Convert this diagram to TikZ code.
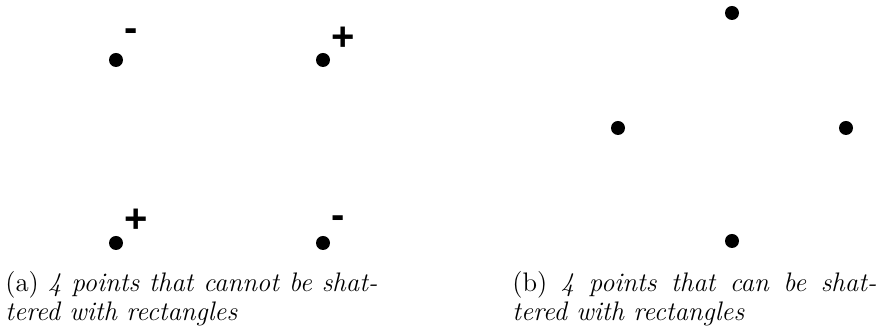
\documentclass[tikz,border=0pt]{standalone}
\usepackage{fontspec}
\newfontfamily\signfont{Liberation Sans}
\begin{document}
\begin{tikzpicture}[x=0.5pt,y=-0.5pt,
  dot/.style={circle,fill=black,inner sep=0pt,minimum size=7pt},
  sign/.style={inner sep=0pt,font=\fontsize{20}{24}\selectfont\signfont\bfseries},
  captext/.style={inner sep=0pt,anchor=base west,font=\fontsize{13.4}{16}\selectfont}]
\useasboundingbox (0,0) rectangle (880,330);
% (a)
\node[dot] (a1) at (116,60) {};
\node[dot] (a2) at (323,60) {};
\node[dot] (a3) at (116,243) {};
\node[dot] (a4) at (323,243) {};
\node[sign] (s1) at (131,35) {-};
\node[sign] (s2) at (343,39) {+};
\node[sign] (s3) at (136,221) {+};
\node[sign] (s4) at (338,222) {-};
% (b)
\node[dot] (b1) at (732,13) {};
\node[dot] (b2) at (618,128) {};
\node[dot] (b3) at (846,128) {};
\node[dot] (b4) at (732,241) {};
% captions
\node[captext] (ca1) at (5,292) {\makebox[186pt][s]{(a) \textit{4 points that cannot be shat-}}};
\node[captext] (ca2) at (5,321) {\textit{tered with rectangles}};
\node[captext] (cb1) at (512,292) {\makebox[182pt][s]{(b) \textit{4 points that can be shat-}}};
\node[captext] (cb2) at (512,321) {\textit{tered with rectangles}};
\end{tikzpicture}
\end{document}
